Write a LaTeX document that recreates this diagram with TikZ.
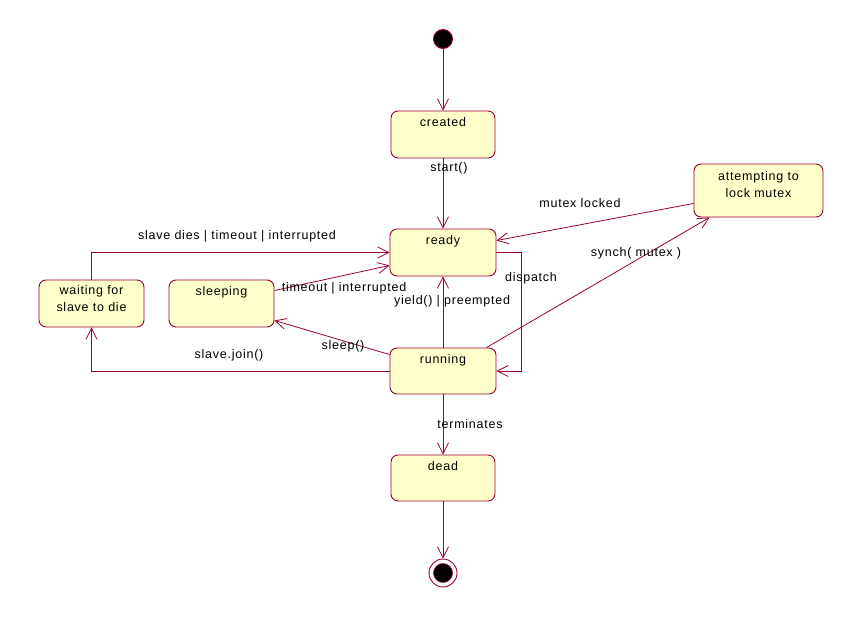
\documentclass[tikz,border=0pt]{standalone}
\usepackage{fontspec}
\setmainfont{Liberation Sans}[LetterSpace=6]
\usetikzlibrary{arrows.meta}
\definecolor{edgec}{RGB}{153,0,51}
\definecolor{statefill}{RGB}{255,255,204}
\tikzset{
  statebox/.style={draw=edgec, fill=statefill, rounded corners=7pt, line width=0.9pt, inner sep=0pt},
  stxt/.style={anchor=north, inner sep=0pt, align=center, font=\fontsize{12.5}{17}\selectfont},
  lbl/.style={inner sep=0pt, font=\fontsize{12.5}{15}\selectfont},
  conn/.style={draw=edgec, line width=0.8pt, -{Straight Barb[length=11pt,width=11pt,line width=0.8pt]}},
}
\begin{document}
\begin{tikzpicture}[x=1pt,y=-1pt]
\useasboundingbox (0,0) rectangle (863,624);
% states
\node[statebox, minimum width=104pt, minimum height=47pt] (created) at (443,134.5) {};
\node[statebox, minimum width=106pt, minimum height=47pt] (ready) at (443,252.5) {};
\node[statebox, minimum width=106pt, minimum height=46pt] (running) at (443,371) {};
\node[statebox, minimum width=104pt, minimum height=46pt] (dead) at (443,478) {};
\node[statebox, minimum width=105pt, minimum height=47pt] (waiting) at (91.5,303.5) {};
\node[statebox, minimum width=105pt, minimum height=47pt] (sleeping) at (221.5,303.5) {};
\node[statebox, minimum width=129pt, minimum height=53pt] (attempt) at (758.5,190.5) {};
% state texts
\node[stxt] (createdt) at ([yshift=-7]created.north) {created};
\node[stxt] (readyt) at ([yshift=-7]ready.north) {ready};
\node[stxt] (runningt) at ([yshift=-7]running.north) {running};
\node[stxt] (deadt) at ([yshift=-7]dead.north) {dead};
\node[stxt] (waitingt) at ([yshift=-6]waiting.north) {waiting for\\slave to die};
\node[stxt] (sleepingt) at ([yshift=-7]sleeping.north) {sleeping};
\node[stxt] (attemptt) at ([yshift=-8]attempt.north) {attempting to\\lock mutex};
% pseudo states
\node[circle, draw=edgec, fill=black, line width=0.9pt, minimum size=19pt, inner sep=0pt] (start) at (443,39) {};
\node[circle, draw=edgec, line width=0.9pt, minimum size=28pt, inner sep=0pt] (finish) at (443,573) {};
\node[circle, draw=edgec, fill=black, line width=0.6pt, minimum size=19pt, inner sep=0pt] (finishin) at (443,573) {};
% connectors
\draw[conn] (start) -- (created);
\draw[conn] (created) -- (ready);
\draw[conn] ([yshift=14]attempt.south west) -- ([yshift=-12]ready.north east);
\draw[conn] ([xshift=-10]running.north east) -- ([xshift=16]attempt.south west);
\draw[conn] (ready.east) -- ++(25,0) |- (running.east);
\draw[conn] (running) -- (ready);
\draw[conn] ([yshift=-11]sleeping.north east) -- ([yshift=11]ready.south west);
\draw[conn] (waiting.north) |- (ready.west);
\draw[conn] ([yshift=-7]running.north west) -- ([yshift=7]sleeping.south east);
\draw[conn] (running.west) -| (waiting.south);
\draw[conn] (running) -- (dead);
\draw[conn] (dead) -- (finish);
% labels
\node[lbl] (l-start) at (449,168) {start()};
\node[lbl] (l-mutexlocked) at (580,203) {mutex locked};
\node[lbl] (l-synch) at (636,253) {synch( mutex )};
\node[lbl] (l-dispatch) at (531,278) {dispatch};
\node[lbl] (l-yield) at (452,301) {yield() | preempted};
\node[lbl] (l-timeout) at (344,288) {timeout | interrupted};
\node[lbl] (l-sleep) at (343,346) {sleep()};
\node[lbl] (l-join) at (229,355) {slave.join()};
\node[lbl] (l-dies) at (237,236) {slave dies | timeout | interrupted};
\node[lbl] (l-term) at (470,424) {terminates};
\end{tikzpicture}
\end{document}
